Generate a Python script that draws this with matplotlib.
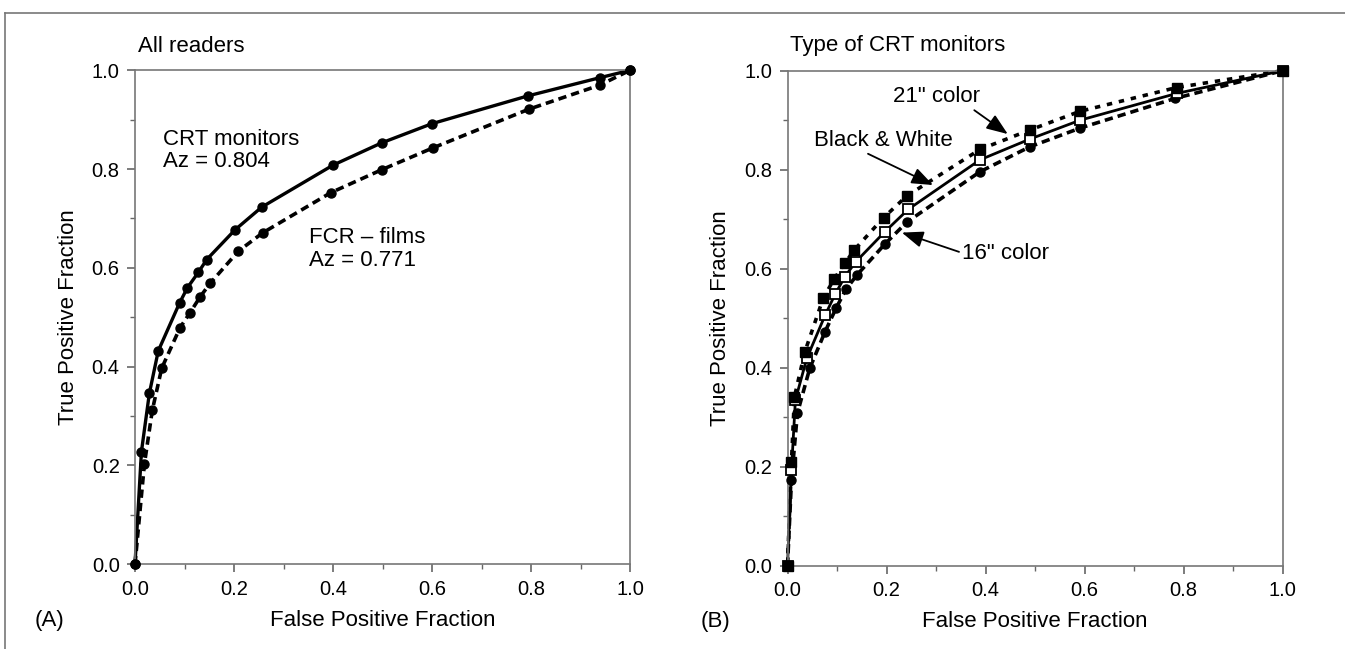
import matplotlib
matplotlib.use("Agg")
import matplotlib.pyplot as plt
from matplotlib.ticker import MultipleLocator
from matplotlib.lines import Line2D

plt.rcParams['font.family'] = ['Liberation Sans', 'DejaVu Sans']

# ---- Panel A data: all readers ----
crt_fpf = [0, 0.013, 0.029, 0.047, 0.09, 0.106, 0.128, 0.145, 0.202, 0.256, 0.40, 0.498, 0.60, 0.793, 0.939, 1.0]
crt_tpf = [0, 0.228, 0.346, 0.432, 0.529, 0.560, 0.591, 0.617, 0.677, 0.723, 0.808, 0.853, 0.892, 0.948, 0.985, 1.0]
fcr_fpf = [0, 0.019, 0.035, 0.054, 0.091, 0.111, 0.132, 0.152, 0.209, 0.258, 0.395, 0.499, 0.602, 0.795, 0.939, 1.0]
fcr_tpf = [0, 0.203, 0.312, 0.397, 0.479, 0.509, 0.542, 0.569, 0.634, 0.671, 0.752, 0.799, 0.843, 0.921, 0.970, 1.0]

# ---- Panel B data: type of CRT monitors ----
c21_fpf = [0, 0.008, 0.014, 0.035, 0.072, 0.094, 0.116, 0.135, 0.194, 0.241, 0.389, 0.489, 0.591, 0.786, 1.0]
c21_tpf = [0, 0.209, 0.341, 0.432, 0.540, 0.579, 0.611, 0.638, 0.703, 0.747, 0.841, 0.880, 0.918, 0.966, 1.0]
bw_fpf = [0, 0.008, 0.016, 0.039, 0.076, 0.096, 0.116, 0.138, 0.197, 0.244, 0.389, 0.490, 0.591, 0.786, 1.0]
bw_tpf = [0, 0.193, 0.335, 0.419, 0.506, 0.548, 0.584, 0.614, 0.675, 0.720, 0.820, 0.862, 0.900, 0.954, 1.0]
c16_fpf = [0, 0.008, 0.020, 0.045, 0.076, 0.098, 0.118, 0.140, 0.197, 0.241, 0.389, 0.489, 0.591, 0.783, 1.0]
c16_tpf = [0, 0.173, 0.308, 0.399, 0.473, 0.520, 0.558, 0.587, 0.650, 0.694, 0.796, 0.846, 0.884, 0.944, 1.0]

x_label = "False Positive Fraction"
y_label = "True Positive Fraction"
tick_vals = [0.0, 0.2, 0.4, 0.6, 0.8, 1.0]

W, H = 1345, 649
fig = plt.figure(figsize=(W / 100, H / 100), dpi=100)

# figure frame (scan border)
fig.add_artist(Line2D([5 / W, 1.0], [1 - 13 / H, 1 - 13 / H], transform=fig.transFigure, color='#777777', lw=1.2))
fig.add_artist(Line2D([5 / W, 5 / W], [0.0, 1 - 13 / H], transform=fig.transFigure, color='#777777', lw=1.2))

axA = fig.add_axes([135 / W, (H - 564.3) / H, 495 / W, 494 / H])
axB = fig.add_axes([787.5 / W, (H - 565.7) / H, 495 / W, 495 / H])

for ax in (axA, axB):
    ax.set_xlim(0, 1)
    ax.set_ylim(0, 1)
    ax.set_xticks(tick_vals)
    ax.set_yticks(tick_vals)
    ax.set_xticklabels([f"{v:.1f}" for v in tick_vals])
    ax.set_yticklabels([f"{v:.1f}" for v in tick_vals])
    ax.xaxis.set_minor_locator(MultipleLocator(0.1))
    ax.yaxis.set_minor_locator(MultipleLocator(0.1))
    ax.tick_params(which='major', direction='out', length=6, width=1.2, color='#666666',
                   labelsize=14.5, pad=5, top=False, right=False)
    ax.tick_params(which='minor', direction='out', length=3.5, width=1.0, color='#666666',
                   top=False, right=False)
    for sp in ax.spines.values():
        sp.set_color('#777777')
        sp.set_linewidth(1.2)
    ax.text(0.5, -0.113, x_label, transform=ax.transAxes, ha='center', va='center', fontsize=16)
    ax.text(-0.135, 0.5, y_label, transform=ax.transAxes, ha='center', va='center',
            rotation=90, fontsize=16)

# ---- Panel A ----
axA.plot(crt_fpf, crt_tpf, color='black', lw=2.4, ls='-', zorder=2, clip_on=False)
axA.plot(fcr_fpf, fcr_tpf, color='black', lw=2.6, ls=(0, (2.3, 1.4)), zorder=2, clip_on=False)
axA.plot(crt_fpf, crt_tpf, 'o', color='black', ms=6.5, zorder=3, clip_on=False)
axA.plot(fcr_fpf, fcr_tpf, 'o', color='black', ms=6.5, zorder=3, clip_on=False)
axA.text(0.006, 1.049, "All readers", transform=axA.transAxes, ha='left', va='center', fontsize=16)
axA.text(0.057, 0.859, "CRT monitors", ha='left', va='center', fontsize=16)
axA.text(0.057, 0.815, "Az = 0.804", ha='left', va='center', fontsize=16)
axA.text(0.352, 0.661, "FCR \u2013 films", ha='left', va='center', fontsize=16)
axA.text(0.352, 0.615, "Az = 0.771", ha='left', va='center', fontsize=16)
axA.text(-0.172, -0.113, "(A)", transform=axA.transAxes, ha='center', va='center', fontsize=16)

# ---- Panel B ----
axB.plot(c21_fpf, c21_tpf, color='black', lw=2.6, ls=(0, (1.5, 1.9)), zorder=2, clip_on=False)
axB.plot(bw_fpf, bw_tpf, color='black', lw=2.0, ls='-', zorder=2, clip_on=False)
axB.plot(c16_fpf, c16_tpf, color='black', lw=2.6, ls=(0, (2.3, 1.4)), zorder=2, clip_on=False)
axB.plot(c16_fpf, c16_tpf, 'o', color='black', ms=6.5, zorder=3, clip_on=False)
axB.plot(bw_fpf, bw_tpf, 's', mfc='white', mec='black', mew=1.3, ms=7, zorder=4, clip_on=False)
axB.plot(c21_fpf, c21_tpf, 's', color='black', ms=7, zorder=5, clip_on=False)
axB.text(0.005, 1.05, "Type of CRT monitors", transform=axB.transAxes, ha='left', va='center', fontsize=16)
axB.text(-0.146, -0.113, "(B)", transform=axB.transAxes, ha='center', va='center', fontsize=16)

arrow = dict(arrowstyle='-|>,head_length=0.65,head_width=0.25', mutation_scale=20, lw=1.3,
             color='black', shrinkA=0, shrinkB=0)
axB.annotate("21\" color", xy=(0.445, 0.872), xytext=(0.302, 0.947), ha='center', va='center',
             fontsize=16, arrowprops=dict(arrow, relpos=(0.85, 0.1)))
axB.annotate("Black & White", xy=(0.294, 0.769), xytext=(0.193, 0.859), ha='center', va='center',
             fontsize=16, arrowprops=dict(arrow, relpos=(0.35, 0.0)))
axB.annotate("16\" color", xy=(0.231, 0.673), xytext=(0.440, 0.630), ha='center', va='center',
             fontsize=16, arrowprops=dict(arrow, relpos=(0.0, 0.55)))

fig.savefig("out.png", dpi=100)
